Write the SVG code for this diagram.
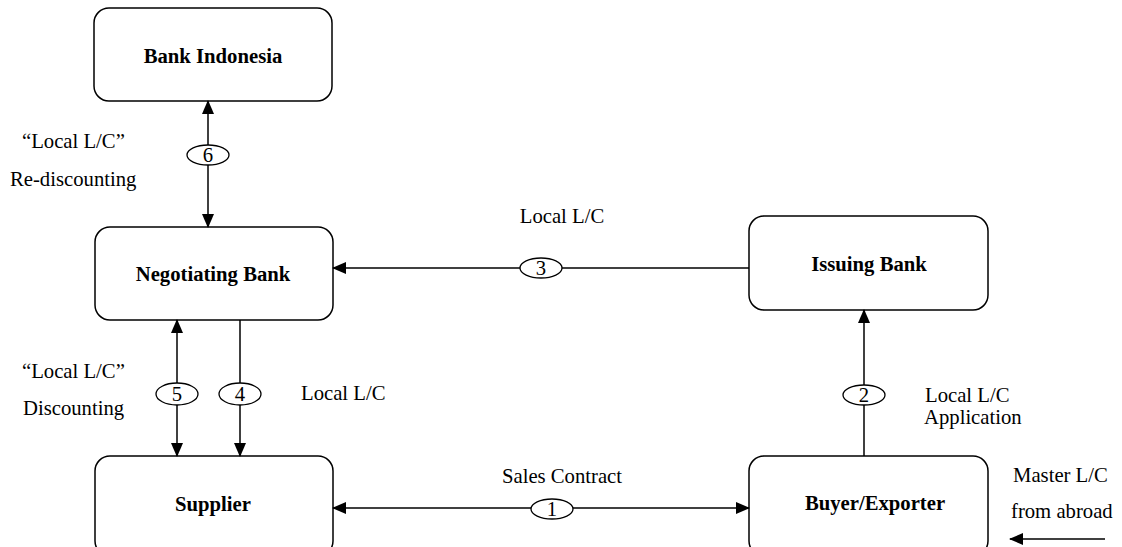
<svg xmlns="http://www.w3.org/2000/svg" width="1122" height="547" viewBox="0 0 1122 547">
<style>
.box{fill:#fff;stroke:#000;stroke-width:1.5}
.t{font-family:"Liberation Serif","Times New Roman",serif;font-size:20.7px;fill:#000}
.b{font-weight:bold;text-anchor:middle}
.ln{stroke:#000;stroke-width:1.5;fill:none}
.el{fill:#fff;stroke:#000;stroke-width:1.3}
.n{text-anchor:middle}
</style>
<defs>
<marker id="ah" markerUnits="userSpaceOnUse" markerWidth="14" markerHeight="12" refX="13" refY="6" orient="auto-start-reverse" viewBox="0 0 14 12">
<path d="M0,0 L14,6 L0,12 Z" fill="#000"/>
</marker>
</defs>
<rect width="1122" height="547" fill="#fff"/>
<g id="bank-indonesia"><rect class="box" x="94" y="8" width="238" height="93" rx="15"/><text class="t b" x="213" y="63">Bank Indonesia</text></g>
<g id="negotiating-bank"><rect class="box" x="95" y="227" width="238" height="93" rx="15"/><text class="t b" x="213" y="281">Negotiating Bank</text></g>
<g id="supplier"><rect class="box" x="95" y="456" width="238" height="100" rx="15"/><text class="t b" x="213" y="511">Supplier</text></g>
<g id="issuing-bank"><rect class="box" x="749" y="216" width="239" height="94" rx="15"/><text class="t b" x="869" y="271">Issuing Bank</text></g>
<g id="buyer-exporter"><rect class="box" x="749" y="456" width="239" height="100" rx="15"/><text class="t b" x="875" y="510">Buyer/Exporter</text></g>
<g id="connectors">
<line class="ln" x1="208" y1="101" x2="208" y2="227" marker-start="url(#ah)" marker-end="url(#ah)"/>
<line class="ln" x1="177" y1="320" x2="177" y2="456" marker-start="url(#ah)" marker-end="url(#ah)"/>
<line class="ln" x1="240" y1="320" x2="240" y2="456" marker-end="url(#ah)"/>
<line class="ln" x1="749" y1="268" x2="333" y2="268" marker-end="url(#ah)"/>
<line class="ln" x1="864" y1="456" x2="864" y2="310" marker-end="url(#ah)"/>
<line class="ln" x1="333" y1="508" x2="749" y2="508" marker-start="url(#ah)" marker-end="url(#ah)"/>
<line class="ln" x1="1105" y1="539" x2="1010" y2="539" marker-end="url(#ah)"/>
<ellipse class="el" cx="208" cy="155" rx="21" ry="10"/><text class="t n" x="208" y="162">6</text>
<ellipse class="el" cx="177" cy="394" rx="21" ry="11"/><text class="t n" x="177" y="401">5</text>
<ellipse class="el" cx="240" cy="394" rx="21" ry="11"/><text class="t n" x="240" y="401">4</text>
<ellipse class="el" cx="541" cy="268" rx="21" ry="10"/><text class="t n" x="541" y="275">3</text>
<ellipse class="el" cx="864" cy="395" rx="21" ry="10"/><text class="t n" x="864" y="402">2</text>
<ellipse class="el" cx="552" cy="509" rx="21" ry="10"/><text class="t n" x="552" y="516">1</text>
<text class="t" x="22" y="148">“Local L/C”</text>
<text class="t" x="10" y="186">Re-discounting</text>
<text class="t" x="22" y="378">“Local L/C”</text>
<text class="t" x="23" y="415">Discounting</text>
<text class="t" x="301" y="400">Local L/C</text>
<text class="t n" x="562" y="223">Local L/C</text>
<text class="t" x="925" y="402">Local L/C</text>
<text class="t" x="924" y="424">Application</text>
<text class="t n" x="562" y="483">Sales Contract</text>
<text class="t" x="1013" y="482">Master L/C</text>
<text class="t" x="1011" y="518">from abroad</text>
</g>
</svg>
